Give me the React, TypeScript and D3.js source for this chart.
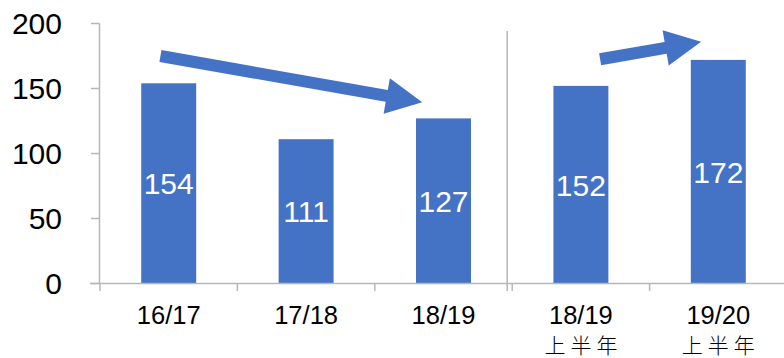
import React from "react";
import * as d3 from "d3";

const categories = ["16/17", "17/18", "18/19", "18/19", "19/20"];
const subLabels = ["", "", "", "上半年", "上半年"];
const values = [154, 111, 127, 152, 172];
const yTicks = [0, 50, 100, 150, 200];
// arrows: [fromCategoryIndex, fromOffset(band steps), fromValue, toCategoryIndex, toOffset, toValue]
const arrowFrom = [[0, -0.06, 175], [3, 0.14, 172.5]];
const arrowTo = [[2, -0.155, 139.5], [4, -0.125, 186]];
const unitLabel = "(百万美元)";

const W = 784;
const H = 358;
const BLUE = "#4472C4";
const AXIS = "#b7b7b7";

export default function App() {
  const idx = categories.map((_, i) => i);
  const x = d3.scaleBand<number>().domain(idx).range([100, 787]).paddingInner(0.6).paddingOuter(0.3);
  const y = d3.scaleLinear().domain([0, 200]).range([283.5, 23.5]);
  const step = x.step();
  const center = (i: number) => (x(i) as number) + x.bandwidth() / 2;
  const boundary = (i: number) => 100 + i * step;

  const arrowPath = (fx: number, fy: number, tx: number, ty: number) => {
    const dx = tx - fx, dy = ty - fy;
    const len = Math.hypot(dx, dy);
    const ux = dx / len, uy = dy / len;
    const nx = -uy, ny = ux;
    const shaftW = 12, headW = 36, headL = 36;
    const bx = tx - ux * headL, by = ty - uy * headL;
    const p = d3.path();
    p.moveTo(fx + nx * shaftW / 2, fy + ny * shaftW / 2);
    p.lineTo(bx + nx * shaftW / 2, by + ny * shaftW / 2);
    p.lineTo(bx + nx * headW / 2, by + ny * headW / 2);
    p.lineTo(tx, ty);
    p.lineTo(bx - nx * headW / 2, by - ny * headW / 2);
    p.lineTo(bx - nx * shaftW / 2, by - ny * shaftW / 2);
    p.lineTo(fx - nx * shaftW / 2, fy - ny * shaftW / 2);
    p.closePath();
    return p.toString();
  };

  const cjkSize = 21;
  const cjkSpacing = 5;

  return (
    <svg width={W} height={H} style={{ position: "absolute", left: 0, top: 0, background: "#fff" }}
      fontFamily="'Liberation Sans', Arial, sans-serif">
      <text x={28} y={-5} fontSize={26} fill="#000">{unitLabel}</text>
      {/* y axis */}
      <line x1={99.5} x2={99.5} y1={y(200)} y2={y(0)} stroke={AXIS} strokeWidth={1.5} />
      {yTicks.map(t => (
        <g key={t}>
          <line x1={91} x2={99.5} y1={y(t)} y2={y(t)} stroke={AXIS} strokeWidth={1.5} />
          <text x={62} y={y(t)} dy="0.36em" textAnchor="end" fontSize={30} fill="#000">{t}</text>
        </g>
      ))}
      {/* bars */}
      {values.map((v, i) => (
        <rect key={i} x={x(i)} y={y(v)} width={x.bandwidth()} height={y(0) - y(v)} fill={BLUE} />
      ))}
      {/* x axis */}
      <line x1={90} x2={W} y1={y(0)} y2={y(0)} stroke={AXIS} strokeWidth={1.5} />
      {d3.range(categories.length + 1).map(i => (
        <line key={i} x1={boundary(i)} x2={boundary(i)} y1={y(0)} y2={y(0) + 7.5} stroke={AXIS} strokeWidth={1.5} />
      ))}
      {/* separator */}
      <line x1={boundary(3) - 5} x2={boundary(3) - 5} y1={31} y2={y(0) + 7.5} stroke={AXIS} strokeWidth={1.5} />
      {/* labels in bars */}
      {values.map((v, i) => (
        <text key={i} x={center(i)} y={(y(v) + y(0)) / 2} dy="0.36em" textAnchor="middle" fontSize={30} fill="#fff">{v}</text>
      ))}
      {/* category labels */}
      {categories.map((c, i) => (
        <g key={i}>
          <text x={center(i)} y={324} textAnchor="middle" fontSize={25.5} fill="#000">{c}</text>
          {subLabels[i] && (
            <text x={center(i) + cjkSpacing / 2} y={353} textAnchor="middle" fontSize={cjkSize} letterSpacing={cjkSpacing}
              fontFamily="'Noto Sans CJK JP', 'Noto Sans CJK SC', sans-serif" fontWeight={300} fill="#000">{subLabels[i]}</text>
          )}
        </g>
      ))}
      {/* arrows */}
      {arrowFrom.map((f, k) => {
        const t = arrowTo[k];
        return (
          <path key={k}
            d={arrowPath(center(f[0]) + f[1] * step, y(f[2]), center(t[0]) + t[1] * step, y(t[2]))}
            fill={BLUE} />
        );
      })}
    </svg>
  );
}
